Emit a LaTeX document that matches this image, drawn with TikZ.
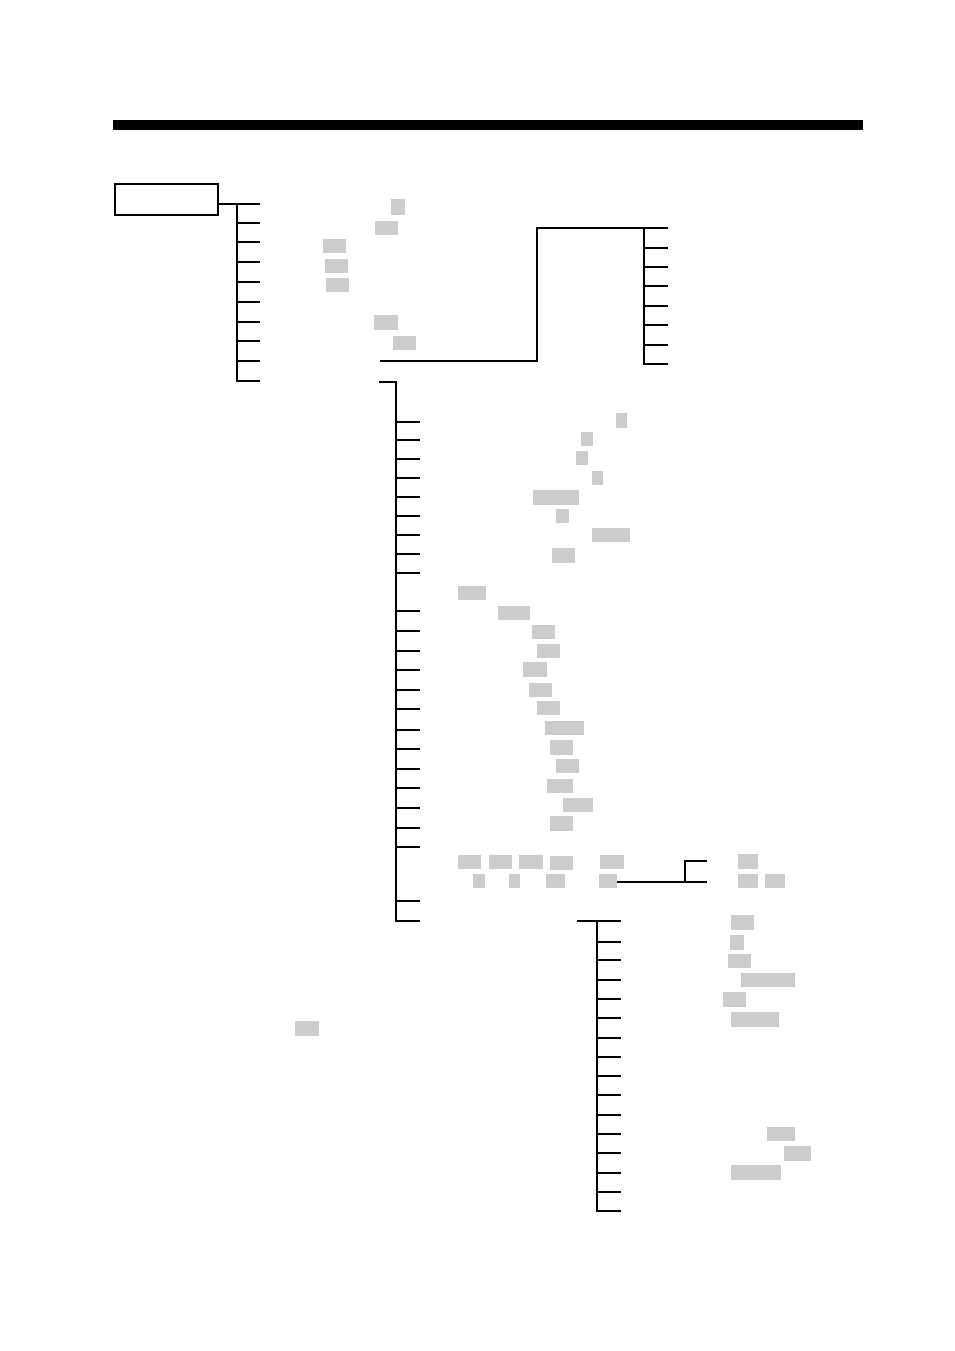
\documentclass[tikz,border=0pt]{standalone}
\usepackage{tikz}
\usetikzlibrary{positioning}

\definecolor{blankgray}{HTML}{CCCCCC}
\tikzset{
  tree/.style={line width=1.5pt, line cap=rect},
  blank/.style={fill=blankgray, draw=none},
  rootbox/.style={draw, line width=1.5pt, minimum width=103pt, minimum height=31pt, inner sep=0pt}
}

\begin{document}
\begin{tikzpicture}[x=1pt, y=-1pt]
        \useasboundingbox (0,0) rectangle (954,1351);

        % heading bar
        \fill (113,120) rectangle (863,130);

        % root of the menu
        \node[rootbox] (root) at (166.5,199.5) {};

        % first level
        \coordinate (L1) at (237,204);
        \coordinate (L1end) at (237,381);
        \draw[tree] (root.east |- L1) -- (L1) -- (259,204);
        \draw[tree] (L1) -- (L1end);
        \foreach \y in {223,242,262,282,302,322,341,361,381}
          \draw[tree] (237,\y) -- (259,\y);

        % first level labels
        \fill[blank] (391,199) rectangle (405,215);
        \fill[blank] (375,221) rectangle (398,235);
        \fill[blank] (323,239) rectangle (346,253);
        \fill[blank] (325,259) rectangle (348,273);
        \fill[blank] (326,278) rectangle (349,292);
        \fill[blank] (374,315) rectangle (398,330);
        \fill[blank] (393,336) rectangle (416,350);

        % sub menu at top right
        \coordinate (A) at (381,361);
        \coordinate (A1) at (537,361);
        \coordinate (A2) at (537,228);
        \coordinate (R) at (644,228);
        \coordinate (Rend) at (644,364);
        \draw[tree] (A) -- (A1) -- (A2) -- (667,228);
        \draw[tree] (R) -- (Rend);
        \foreach \y in {248,267,286,306,325,345,364}
          \draw[tree] (644,\y) -- (667,\y);

        % second level
        \coordinate (B) at (380,382);
        \coordinate (L2) at (396,382);
        \coordinate (L2end) at (396,921);
        \draw[tree] (B) -- (L2) -- (L2end);
        \foreach \y in {422,440,459,478,497,516,535,554,573,611,631,651,670,690,709,730,749,769,788,808,828,847,901,921}
          \draw[tree] (396,\y) -- (419,\y);

        % second level labels
        \fill[blank] (616,413) rectangle (627,428);
        \fill[blank] (581,432) rectangle (593,446);
        \fill[blank] (576,451) rectangle (588,465);
        \fill[blank] (592,471) rectangle (603,485);
        \fill[blank] (533,490) rectangle (579,505);
        \fill[blank] (556,509) rectangle (569,523);
        \fill[blank] (592,528) rectangle (630,542);
        \fill[blank] (552,548) rectangle (575,563);
        \fill[blank] (458,586) rectangle (486,600);
        \fill[blank] (498,606) rectangle (530,620);
        \fill[blank] (532,625) rectangle (555,639);
        \fill[blank] (537,644) rectangle (560,658);
        \fill[blank] (523,662) rectangle (547,677);
        \fill[blank] (529,683) rectangle (552,697);
        \fill[blank] (537,701) rectangle (560,715);
        \fill[blank] (545,721) rectangle (584,735);
        \fill[blank] (550,740) rectangle (573,755);
        \fill[blank] (556,759) rectangle (579,773);
        \fill[blank] (547,779) rectangle (573,793);
        \fill[blank] (563,798) rectangle (593,812);
        \fill[blank] (550,816) rectangle (573,831);

        % two-line row and its fork
        \fill[blank] (458,855) rectangle (481,869);
        \fill[blank] (489,855) rectangle (512,869);
        \fill[blank] (519,855) rectangle (543,869);
        \fill[blank] (550,856) rectangle (573,870);
        \fill[blank] (600,855) rectangle (624,869);
        \fill[blank] (738,854) rectangle (758,869);
        \fill[blank] (473,874) rectangle (485,888);
        \fill[blank] (509,874) rectangle (520,888);
        \fill[blank] (546,874) rectangle (565,888);
        \fill[blank] (599,874) rectangle (617,888);
        \fill[blank] (738,874) rectangle (758,888);
        \fill[blank] (765,874) rectangle (785,888);

        \coordinate (F) at (618,882);
        \coordinate (F1) at (685,882);
        \coordinate (F2) at (685,861);
        \draw[tree] (F) -- (706,882);
        \draw[tree] (F1) -- (F2) -- (706,861);

        % third level
        \coordinate (C) at (578,921);
        \coordinate (L3) at (597,921);
        \coordinate (L3end) at (597,1211);
        \draw[tree] (C) -- (620,921);
        \draw[tree] (L3) -- (L3end);
        \foreach \y in {942,960,980,999,1018,1038,1057,1076,1095,1115,1134,1153,1173,1192,1211}
          \draw[tree] (597,\y) -- (620,\y);

        % third level labels
        \fill[blank] (731,915) rectangle (754,930);
        \fill[blank] (730,935) rectangle (744,950);
        \fill[blank] (728,954) rectangle (751,968);
        \fill[blank] (741,973) rectangle (795,987);
        \fill[blank] (723,992) rectangle (746,1007);
        \fill[blank] (731,1012) rectangle (779,1027);
        \fill[blank] (767,1127) rectangle (795,1141);
        \fill[blank] (784,1146) rectangle (811,1161);
        \fill[blank] (731,1165) rectangle (781,1180);

        % loose label
        \fill[blank] (295,1021) rectangle (319,1036);
  \end{tikzpicture}
\end{document}
